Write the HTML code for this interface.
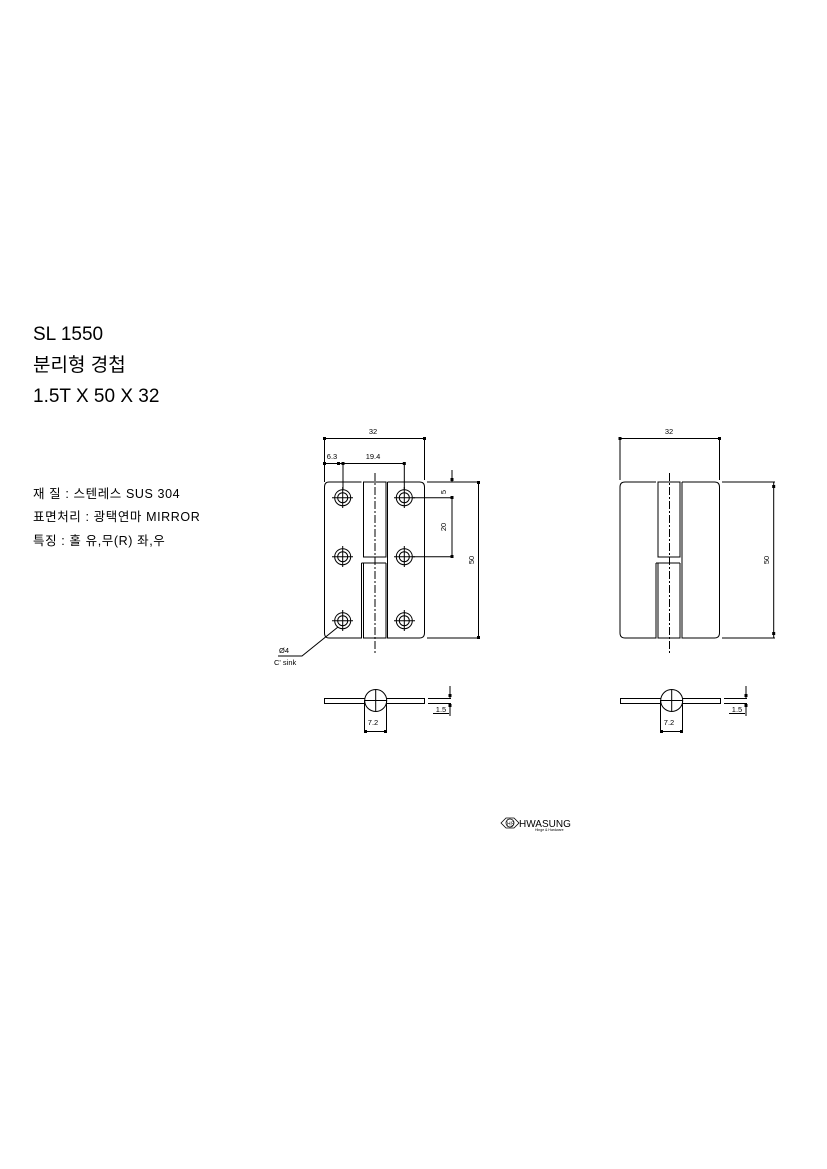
<!DOCTYPE html>
<html><head><meta charset="utf-8"><style>
html,body{margin:0;padding:0;background:#fff;}
svg{display:block;}
.t{font-family:"Liberation Sans","Noto Sans CJK KR",sans-serif;fill:#000;}
</style></head><body>
<svg width="827" height="1169" viewBox="0 0 827 1169" xmlns="http://www.w3.org/2000/svg">
<g class="t">
<text x="33" y="340" font-size="19">SL 1550</text>
<text x="33" y="371" font-size="19">분리형 경첩</text>
<text x="33" y="402" font-size="19">1.5T X 50 X 32</text>
<g font-size="12.5" letter-spacing="0.6">
<text x="33" y="498">재 질 : 스텐레스 SUS 304</text>
<text x="33" y="521">표면처리 : 광택연마 MIRROR</text>
<text x="33" y="545">특징 : 홀 유,무(R) 좌,우</text>
</g>
</g>
<g fill="none" stroke="#000" stroke-width="1">
<path d="M361.5,482 H329 Q324.5,482 324.5,487 V633 Q324.5,638 329,638 H361.5 V563"/>
<rect x="363.5" y="482" width="22.5" height="75"/>
<path d="M361.5,563 H386 M363.5,563 V638 H386 V563 M363.5,557 H386"/>
<path d="M387.5,482 H419.5 Q424.5,482 424.5,487 V633 Q424.5,638 419.5,638 H387.5 V482"/>
<line x1="375" y1="473" x2="375" y2="654" stroke-dasharray="8,2,2,2"/>
<g>
<circle cx="342.7" cy="497.7" r="8"/><circle cx="342.7" cy="497.7" r="5"/>
<circle cx="342.7" cy="556.7" r="8"/><circle cx="342.7" cy="556.7" r="5"/>
<circle cx="342.7" cy="620.7" r="8"/><circle cx="342.7" cy="620.7" r="5"/>
<circle cx="404.3" cy="497.7" r="8"/><circle cx="404.3" cy="497.7" r="5"/>
<circle cx="404.3" cy="556.7" r="8"/><circle cx="404.3" cy="556.7" r="5"/>
<circle cx="404.3" cy="620.7" r="8"/><circle cx="404.3" cy="620.7" r="5"/>
<path d="M332,497.7h21M342.7,487v21M332,556.7h21M342.7,546v21M332,620.7h21M342.7,610v21M394,497.7h21M404.3,487v21M394,556.7h21M404.3,546v21M394,620.7h21M404.3,610v21"/>
</g>
<path d="M324.5,438.5H424.5M324.5,438.5V482M424.5,438.5V480"/>
<path d="M324.5,463.5H404.3M343,463.5V490M404.3,463.5V490"/>
<path d="M427,482H480M427,638H480M478.5,482V638"/>
<path d="M413,497.7H452M452,497.7V556.7M413,556.7H452"/>
<path d="M452,470V482"/>
<path d="M338,627L302,656H278"/>
<path d="M656,482H625Q620,482 620,487V633Q620,638 625,638H656V563"/>
<rect x="658" y="482" width="22" height="75"/>
<path d="M656,563H680M658,563V638H680V563M658,557H680"/>
<path d="M682,482H714.5Q719.5,482 719.5,487V633Q719.5,638 714.5,638H682V482"/>
<line x1="669.5" y1="473" x2="669.5" y2="654" stroke-dasharray="8,2,2,2"/>
<path d="M620,438.5H719.5M620,438.5V480M719.5,438.5V480"/>
<path d="M722,482H775M722,638H775M773.7,482V638"/>
<rect x="324.5" y="698.5" width="100" height="5"/>
<circle cx="375.7" cy="700.5" r="11" fill="#fff"/>
<path d="M375.7,690V711M365,700.5H386"/>
<path d="M364.5,700V732M386.5,700V732M364.5,731.5H386.5"/>
<path d="M428,698.5H451M428,703.5H451M450,686V698.5M450,703.5V716M433,713.5H449"/>
<rect x="620.5" y="698.5" width="100" height="5"/>
<circle cx="671.7" cy="700.5" r="11" fill="#fff"/>
<path d="M671.7,690V711M661,700.5H682"/>
<path d="M660.5,700V732M682.5,700V732M660.5,731.5H682.5"/>
<path d="M724,698.5H747M724,703.5H747M746,686V698.5M746,703.5V716M729,713.5H745"/>
</g>
<g fill="#000">
<rect x="323" y="437" width="3" height="3"/><rect x="423" y="437" width="3" height="3"/>
<rect x="323" y="462" width="3" height="3"/><rect x="337" y="462" width="3" height="3"/><rect x="341.5" y="462" width="3" height="3"/><rect x="402.8" y="462" width="3" height="3"/>
<rect x="477" y="481" width="3" height="3"/><rect x="477" y="636" width="3" height="3"/>
<rect x="450.5" y="496" width="3" height="3"/><rect x="450.5" y="555" width="3" height="3"/>
<rect x="450.5" y="478" width="3" height="3"/>
<rect x="618.5" y="437" width="3" height="3"/><rect x="718" y="437" width="3" height="3"/>
<rect x="772.2" y="485" width="3" height="3"/><rect x="772.2" y="632" width="3" height="3"/>
<rect x="364" y="730" width="3" height="3"/><rect x="384" y="730" width="3" height="3"/>
<rect x="448.5" y="694" width="3" height="3"/><rect x="448.5" y="704" width="3" height="3"/>
<rect x="660" y="730" width="3" height="3"/><rect x="680" y="730" width="3" height="3"/>
<rect x="744.5" y="694" width="3" height="3"/><rect x="744.5" y="704" width="3" height="3"/>
</g>
<g class="t" font-size="7.5">
<text x="373" y="434" text-anchor="middle">32</text>
<text x="332" y="459" text-anchor="middle">6.3</text>
<text x="373" y="459" text-anchor="middle">19.4</text>
<text transform="translate(446,492) rotate(-90)" text-anchor="middle">5</text>
<text transform="translate(446,527) rotate(-90)" text-anchor="middle">20</text>
<text transform="translate(474,560) rotate(-90)" text-anchor="middle">50</text>
<text x="279" y="653">Ø4</text>
<text x="274" y="665">C' sink</text>
<text x="669" y="434" text-anchor="middle">32</text>
<text transform="translate(769,560) rotate(-90)" text-anchor="middle">50</text>
<text x="373" y="725" text-anchor="middle">7.2</text>
<text x="441" y="712" text-anchor="middle">1.5</text>
<text x="669" y="725" text-anchor="middle">7.2</text>
<text x="737" y="712" text-anchor="middle">1.5</text>
</g>
<g fill="none" stroke="#000" stroke-width="0.8">
<path d="M501,823L506,818H514L519,823L514,828H506Z"/>
<circle cx="510" cy="823" r="4"/>
</g>
<text class="t" x="507" y="825.5" font-size="5">HS</text>
<text class="t" x="519" y="827" font-size="10">HWASUNG</text>
<text class="t" x="535" y="831" font-size="3.5">Hinge &amp; Hardware</text>
</svg>
</body></html>
